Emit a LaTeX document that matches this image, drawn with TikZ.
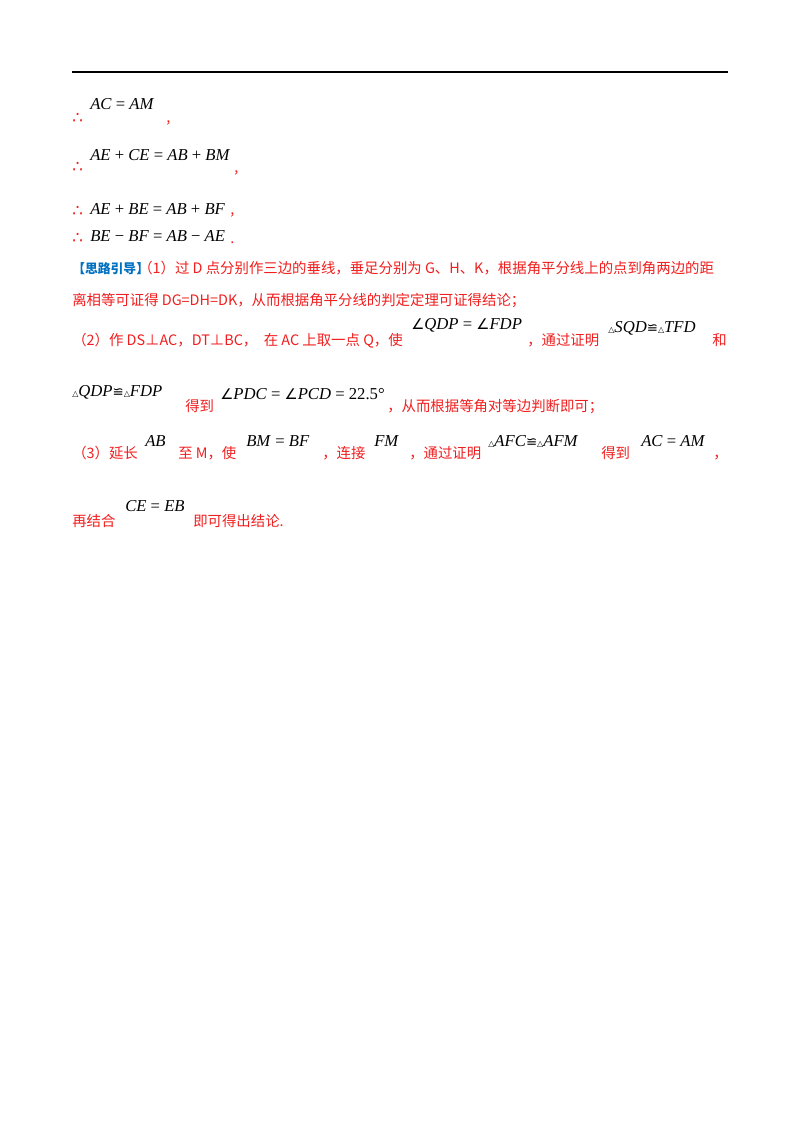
\documentclass[tikz,border=0pt]{standalone}
\usepackage{fontspec}
\setmainfont{Liberation Serif}
\newfontfamily\cjk{Noto Sans CJK SC}
\newfontfamily\djv{DejaVu Sans}
\definecolor{rd}{RGB}{240,30,30}
\definecolor{bl}{RGB}{0,112,192}
\newcommand\mi[1]{\textit{#1}}
\newcommand\myang{{\djv\fontsize{11}{12}\selectfont ∠}}
\newcommand\mytri{{\djv\fontsize{6}{7}\selectfont △}}
\newcommand\mycong{{\djv\fontsize{10}{12}\selectfont ≌}}
\newcommand\myso{{\djv\color{rd}∴}}
\begin{document}
\begin{tikzpicture}[x=0.75pt,y=-0.75pt,
  m/.style={anchor=base west,inner sep=0pt,font=\fontsize{12.5}{14}\selectfont},
  r/.style={anchor=base west,inner sep=0pt,text=rd,font=\cjk\fontsize{10.8}{12}\selectfont}]
\useasboundingbox (0,0) rectangle (800,1132);
\draw[line width=1.5pt] (72,72) -- (728,72);
\node[m] (s1) at (72,123) {\myso};
\node[m] (e1) at (90,109) {\mi{AC} = \mi{AM}};
\node[r] (c1) at (166,122) {,};
\node[m] (s2) at (72,172) {\myso};
\node[m] (e2) at (90,160) {\mi{AE} + \mi{CE} = \mi{AB} + \mi{BM}};
\node[r] (c2) at (234,172) {,};
\node[m] (s3) at (72,216) {\myso};
\node[m] (e3) at (90,214) {\mi{AE} + \mi{BE} = \mi{AB} + \mi{BF}};
\node[r] (c3) at (230,214) {,};
\node[m] (s4) at (72,243) {\myso};
\node[m] (e4) at (90,241) {\mi{BE} − \mi{BF} = \mi{AB} − \mi{AE}};
\node[r] (c4) at (230,243) {.};
\node[anchor=base west,inner sep=0pt,text=bl,font=\cjk\bfseries\fontsize{9.6}{12}\selectfont] (g) at (72,273) {【思路引导】};
\node[r] (t1) at (138,273) {（1）过 D 点分别作三边的垂线，垂足分别为 G、H、K，根据角平分线上的点到角两边的距};
\node[r] (t2) at (72,305) {离相等可证得 DG=DH=DK，从而根据角平分线的判定定理可证得结论；};
\node[r] (t3) at (72,345) {（2）作 DS⊥AC，DT⊥BC，\ \ 在 AC 上取一点 Q，使};
\node[m] (e5) at (411,329) {\myang\mi{QDP} = \myang\mi{FDP}};
\node[r] (t4) at (527,345) {，通过证明};
\node[m] (e6) at (608,332) {\mytri\mi{SQD}\mycong\mytri\mi{TFD}};
\node[r] (t5) at (712,345) {和};
\node[m] (e7) at (72,396) {\mytri\mi{QDP}\mycong\mytri\mi{FDP}};
\node[r] (t6) at (185,411) {得到};
\node[m] (e8) at (220,399) {\myang\mi{PDC} = \myang\mi{PCD} = 22.5°};
\node[r] (t7) at (387,411) {，从而根据等角对等边判断即可；};
\node[r] (t8) at (72,458) {（3）延长};
\node[m] (e9) at (145,446) {\mi{AB}};
\node[r] (t9) at (178,458) {至 M，使};
\node[m] (e10) at (246,446) {\mi{BM} = \mi{BF}};
\node[r] (t10) at (322,458) {，连接};
\node[m] (e11) at (374,446) {\mi{FM}};
\node[r] (t11) at (409,458) {，通过证明};
\node[m] (e12) at (488,446) {\mytri\mi{AFC}\mycong\mytri\mi{AFM}};
\node[r] (t12) at (601,458) {得到};
\node[m] (e13) at (641,446) {\mi{AC} = \mi{AM}};
\node[r] (t13) at (713,458) {，};
\node[r] (t14) at (72,526) {再结合};
\node[m] (e14) at (125,511) {\mi{CE} = \mi{EB}};
\node[r] (t15) at (193,526) {即可得出结论.};
\end{tikzpicture}
\end{document}
